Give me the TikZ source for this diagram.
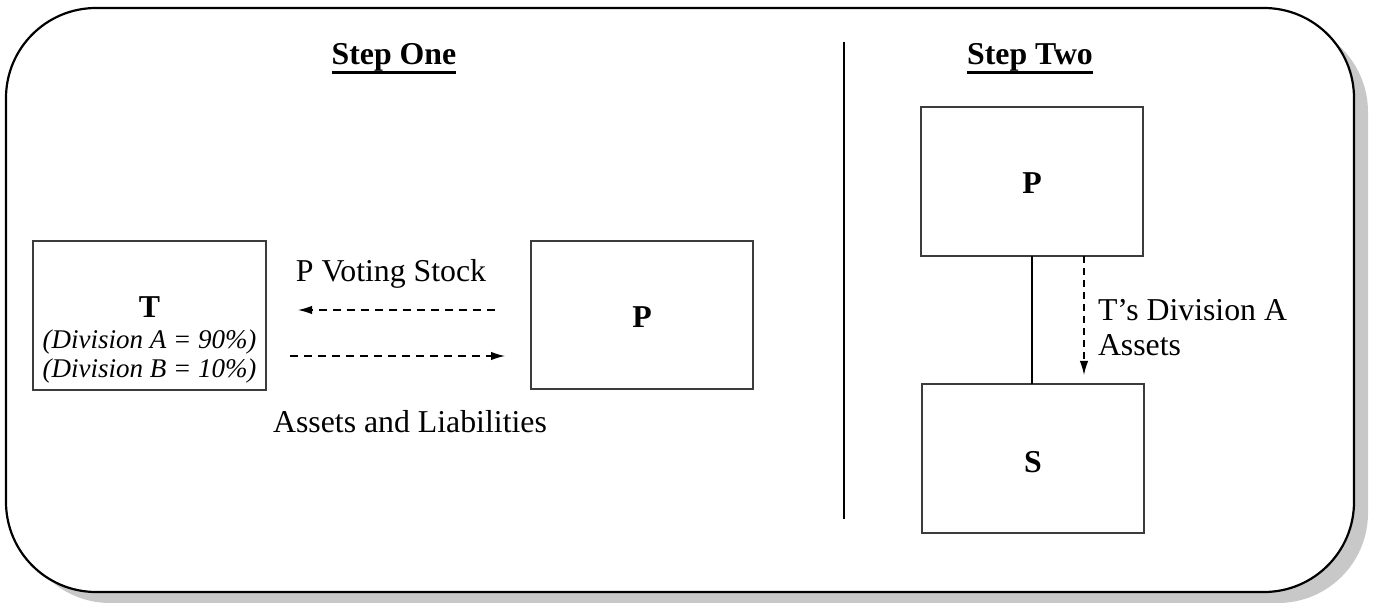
\documentclass[tikz,border=0pt]{standalone}
\usepackage{fontspec}
\setmainfont{Liberation Serif}
\usetikzlibrary{arrows.meta}
\definecolor{shadowgray}{RGB}{200,200,200}
\definecolor{boxgray}{RGB}{60,60,60}
\begin{document}
\begin{tikzpicture}[x=0.5pt,y=-0.5pt,
  every node/.style={inner sep=0pt, outer sep=0pt},
  mainfont/.style={font=\fontsize{15.9}{17.5}\selectfont},
  boldlab/.style={font=\fontsize{15.9}{17.5}\selectfont\bfseries, anchor=base},
  itallab/.style={font=\fontsize{13.5}{14.5}\selectfont\itshape, anchor=base},
  txt/.style={mainfont, anchor=base},
  entity/.style={draw=boxgray, line width=1pt},
  flow/.style={line width=0.6pt, dash pattern=on 4pt off 3pt, -{Latex[length=7pt,width=4.2pt]}},
  divider/.style={line width=1pt}
]
\useasboundingbox (0,0) rectangle (1376,603);
% frame with shadow
\fill[shadowgray, rounded corners=45pt] (20,22) rectangle (1368,603);
\draw[line width=1.1pt, fill=white, rounded corners=45pt] (6,8) rectangle (1354,592);

% headings
\node[boldlab] (h1) at (394,65) {Step One};
\node[boldlab] (h2) at (1030,65) {Step Two};
\draw[line width=1.5pt] ([yshift=-3.6pt]h1.base west) -- ([yshift=-3.6pt]h1.base east);
\draw[line width=1.5pt] ([yshift=-3.6pt]h2.base west) -- ([yshift=-3.6pt]h2.base east);

% divider
\coordinate (dtop) at (844,42);
\coordinate (dbot) at (844,519);
\draw[divider] (dtop) -- (dbot);

% Step one
\draw[entity] (33,241) rectangle (266,390);
\node[boldlab] (Tlab) at (149.5,318) {T};
\node[itallab] (divA) at (149.5,349) {(Division A = 90\%)};
\node[itallab] (divB) at (149.5,378) {(Division B = 10\%)};
\node[entity, minimum width=111pt, minimum height=74pt] (P1) at (642,315) {};
\node[boldlab] (P1lab) at (642,328) {P};

\coordinate (a1s) at (495,310);
\coordinate (a1e) at (298,310);
\coordinate (a2s) at (290,356);
\coordinate (a2e) at (505,356);
\draw[flow] (a1s) -- (a1e);
\draw[flow] (a2s) -- (a2e);
\node[txt] (pvs) at (391,282) {P Voting Stock};
\node[txt] (al) at (410,433) {Assets and Liabilities};

% Step two
\node[entity, minimum width=111pt, minimum height=74.5pt] (P2) at (1032,181.5) {};
\node[boldlab] (P2lab) at (1032,194) {P};
\node[entity, minimum width=111pt, minimum height=74.5pt] (S) at (1033,458.5) {};
\node[boldlab] (Slab) at (1033,473) {S};
\draw[line width=0.7pt] (P2.south) -- (S.north -| P2.south);
\coordinate (d2s) at (1084,256);
\coordinate (d2e) at (1084,375);
\draw[flow, dash pattern=on 3.5pt off 2.5pt] (d2s) -- (d2e);
\node[txt, anchor=base west] (tda) at (1098,321) {T’s Division A};
\node[txt, anchor=base west] (tdb) at (1098,356) {Assets};
\end{tikzpicture}
\end{document}
